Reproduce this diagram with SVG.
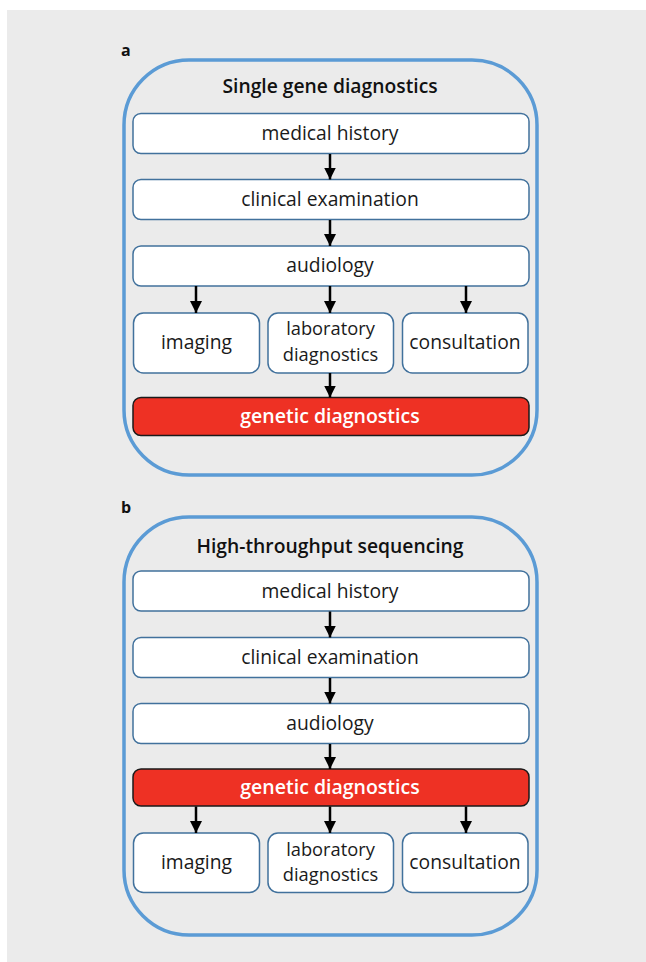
<svg xmlns="http://www.w3.org/2000/svg" width="646" height="962" viewBox="0 0 646 962">
<style>
.bg{fill:#ebebeb}
.outer{fill:none;stroke:#5b9bd5;stroke-width:3.5}
.box{fill:#ffffff;stroke:#41719c;stroke-width:1.5}
.red{fill:#ee3124;stroke:#1a1a1a;stroke-width:1.5}
.t{font-family:"Open Sans","Noto Sans",sans-serif;font-size:19.3px;fill:#1a1a1a;text-anchor:middle}
.t2{font-family:"Open Sans","Noto Sans",sans-serif;font-size:18.3px;fill:#1a1a1a;text-anchor:middle}
.w{font-family:"Open Sans","Noto Sans",sans-serif;font-size:19.5px;font-weight:600;fill:#ffffff;text-anchor:middle}
.h{font-family:"Open Sans","Noto Sans",sans-serif;font-size:19.3px;font-weight:600;fill:#111111;text-anchor:middle}
.lbl{font-family:"Open Sans","Noto Sans",sans-serif;font-size:16px;font-weight:700;fill:#111111}
.c{stroke:#000000;stroke-width:2.5;fill:none;marker-end:url(#ah)}
</style>
<defs>
<marker id="ah" markerUnits="userSpaceOnUse" markerWidth="12" markerHeight="14" refX="12" refY="6" orient="auto" viewBox="0 0 12 12">
<path d="M0,0 L12,6 L0,12 Z" fill="#000000"/>
</marker>
</defs>
<rect class="bg" x="7" y="10" width="639" height="952"/>

<g id="panel-a">
<text class="lbl" x="121" y="56">a</text>
<rect class="outer" x="124" y="60" width="413" height="415" rx="65" ry="65"/>
<text class="h" x="330" y="93">Single gene diagnostics</text>
</g>
<g id="a-medical-history"><rect class="box" x="133" y="113.5" width="396" height="40" rx="8"/><text class="t" x="330" y="140">medical history</text></g>
<g id="a-clinical-examination"><rect class="box" x="133" y="179.5" width="396" height="40" rx="8"/><text class="t" x="330" y="206">clinical examination</text></g>
<g id="a-audiology"><rect class="box" x="133" y="246" width="396" height="40" rx="8"/><text class="t" x="330" y="272">audiology</text></g>
<g id="a-imaging"><rect class="box" x="133.5" y="313" width="126" height="60" rx="10"/><text class="t" x="196.5" y="349">imaging</text></g>
<g id="a-laboratory"><rect class="box" x="268" y="313" width="125.5" height="60" rx="10"/><text class="t2" x="330.5" y="335">laboratory</text><text class="t2" x="330.5" y="360.5">diagnostics</text></g>
<g id="a-consultation"><rect class="box" x="402.5" y="313" width="125.5" height="60" rx="10"/><text class="t" x="465" y="349">consultation</text></g>
<g id="a-genetic"><rect class="red" x="133" y="397.5" width="396" height="38" rx="8"/><text class="w" x="330" y="423">genetic diagnostics</text></g>

<g id="panel-b">
<text class="lbl" x="121" y="513">b</text>
<rect class="outer" x="124" y="517" width="413" height="418" rx="65" ry="65"/>
<text class="h" x="330" y="553">High-throughput sequencing</text>
</g>
<g id="b-medical-history"><rect class="box" x="133" y="571" width="396" height="40" rx="8"/><text class="t" x="330" y="597.5">medical history</text></g>
<g id="b-clinical-examination"><rect class="box" x="133" y="637.5" width="396" height="40" rx="8"/><text class="t" x="330" y="664">clinical examination</text></g>
<g id="b-audiology"><rect class="box" x="133" y="703.5" width="396" height="40" rx="8"/><text class="t" x="330" y="730">audiology</text></g>
<g id="b-genetic"><rect class="red" x="133" y="769" width="396" height="37" rx="8"/><text class="w" x="330" y="794">genetic diagnostics</text></g>
<g id="b-imaging"><rect class="box" x="133.5" y="833" width="126" height="59.5" rx="10"/><text class="t" x="196.5" y="868.5">imaging</text></g>
<g id="b-laboratory"><rect class="box" x="268" y="833" width="125.5" height="59.5" rx="10"/><text class="t2" x="330.5" y="855.5">laboratory</text><text class="t2" x="330.5" y="880.5">diagnostics</text></g>
<g id="b-consultation"><rect class="box" x="402.5" y="833" width="125.5" height="59.5" rx="10"/><text class="t" x="465" y="868.5">consultation</text></g>

<g id="connectors">
<line class="c" x1="330" y1="154" x2="330" y2="179.5"/>
<line class="c" x1="330" y1="220" x2="330" y2="246"/>
<line class="c" x1="196" y1="286" x2="196" y2="313"/>
<line class="c" x1="330" y1="286" x2="330" y2="313"/>
<line class="c" x1="466" y1="286" x2="466" y2="313"/>
<line class="c" x1="330" y1="373" x2="330" y2="397.5"/>
<line class="c" x1="330" y1="611.5" x2="330" y2="637.5"/>
<line class="c" x1="330" y1="678" x2="330" y2="703.5"/>
<line class="c" x1="330" y1="744" x2="330" y2="769"/>
<line class="c" x1="196" y1="806.5" x2="196" y2="833"/>
<line class="c" x1="330" y1="806.5" x2="330" y2="833"/>
<line class="c" x1="466" y1="806.5" x2="466" y2="833"/>
</g>
</svg>
